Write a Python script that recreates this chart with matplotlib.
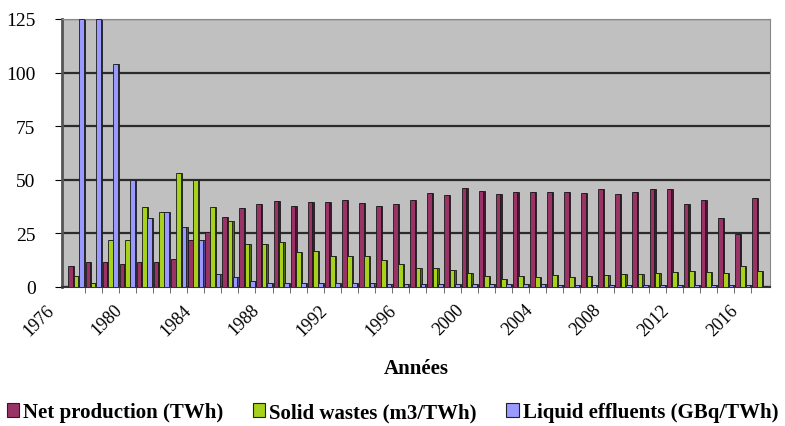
import numpy as np
import matplotlib
matplotlib.use("Agg")
import matplotlib.pyplot as plt
from matplotlib.patches import Patch
from matplotlib.transforms import ScaledTranslation

# %%
# Data
years = list(range(1976, 2017))
net_production = [10, 11.5, 11.5, 10.5, 11.5, 11.5, 13, 22, 25.5, 32.5, 37,
                  38.5, 40, 38, 39.5, 39.5, 40.5, 39, 38, 38.5, 40.5,
                  44, 43, 46, 45, 43.5, 44.5, 44.5, 44.5, 44.5, 44, 45.5,
                  43.5, 44.5, 45.5, 45.5, 38.5, 40.5, 32, 24.5, 41.5]
solid_wastes = [5, 2, 22, 22, 37.5, 35, 53, 50, 37.5, 31, 20,
                20, 21, 16.5, 17, 14.5, 14.5, 14.5, 12.5, 10.5, 9,
                9, 8, 6.5, 5, 3.5, 5, 4.5, 5.5, 4.5, 5, 5.5,
                6, 6, 6.5, 7, 7.5, 7, 6.5, 10, 7.5]
liquid_effluents = [125, 125, 104, 50, 32, 35, 28, 22, 6, 4.5, 3,
                    2, 2, 2, 2, 2, 2, 2, 1.5, 1.5, 1.5,
                    1.5, 1.5, 1.5, 1.5, 1.5, 1.2, 1.2, 1, 1, 1, 1,
                    1, 1, 1, 1, 1, 1, 1, 1, 0.5]
series_labels = ["Net production (TWh)", "Solid wastes (m3/TWh)",
                 "Liquid effluents (GBq/TWh)"]

# %%
front_colors = ["#993366", "#a6d11c", "#9999ff"]
side_colors = ["#4a1530", "#4f6a08", "#4a4a8c"]

fig = plt.figure(figsize=(7.85, 4.27), dpi=100)
ax = fig.add_axes([62 / 785, 139 / 427, 708 / 785, 268 / 427])
ax.set_facecolor("#c0c0c0")

x = np.arange(len(years))
width = 0.27
offsets = [-0.31, 0.0, 0.31]
all_series = [net_production, solid_wastes, liquid_effluents]

for vals, off, fc, sc in zip(all_series, offsets, front_colors, side_colors):
    # darker shifted bar behind gives the fake 3D side
    ax.bar(x + off + 0.08, vals, width, color=sc, edgecolor="#1a1a1a",
           linewidth=0.6, zorder=2)
    ax.bar(x + off, vals, width, color=fc, edgecolor="#1a1a1a",
           linewidth=0.6, zorder=3)

ax.set_xlim(-0.82, 40.6)
ax.set_ylim(0, 125)
ax.set_yticks([0, 25, 50, 75, 100, 125])
ax.yaxis.grid(True, color="#2b2b2b", linewidth=1.6, zorder=1)
ax.set_axisbelow(True)

serif = "Liberation Serif"
ax.set_xticks(x[::4])
ax.set_xticklabels([str(y) for y in years[::4]], rotation=45, ha="right",
                   rotation_mode="anchor", fontsize=13, family=serif)
ax.set_xticks(x[:-1] + 0.5, minor=True)
ax.tick_params(axis="x", which="major", length=0, pad=10)
ax.tick_params(axis="x", which="minor", length=4, color="#555555")
shift = ScaledTranslation(-22 / 72, 0, fig.dpi_scale_trans)
for lab in ax.get_xticklabels():
    lab.set_transform(lab.get_transform() + shift)

ax.tick_params(axis="y", length=5, pad=14, labelsize=14)
for lab in ax.get_yticklabels():
    lab.set_family(serif)

for side in ["top", "right"]:
    ax.spines[side].set_color("#888888")
ax.spines["left"].set_color("#555555")
ax.spines["left"].set_linewidth(2)
ax.spines["bottom"].set_color("#333333")
ax.spines["bottom"].set_linewidth(1.5)

ax.set_xlabel("Années", fontsize=15, fontweight="bold", family=serif,
              labelpad=14)

handles = [Patch(facecolor=c, edgecolor="#222222", linewidth=0.8)
           for c in front_colors]
fig.legend(handles, series_labels, loc="lower center", ncol=3,
           bbox_to_anchor=(0.5, -0.035), frameon=False, handlelength=0.6,
           handleheight=0.7, handletextpad=0.2, columnspacing=1.4,
           prop={"family": serif, "weight": "bold", "size": 15})

fig.savefig("out.png", dpi=100)
